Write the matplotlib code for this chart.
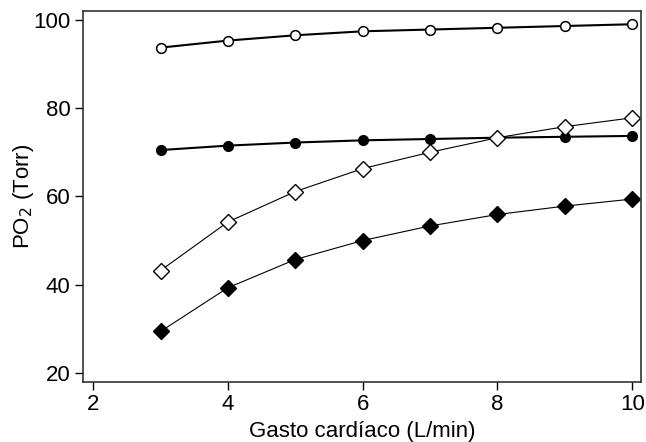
import matplotlib as mpl
mpl.use('Agg')
import matplotlib.pyplot as plt

plt.rcParams['font.family'] = ['Liberation Sans', 'DejaVu Sans']

gasto = [3, 4, 5, 6, 7, 8, 9, 10]
po2_open_circle = [93.7, 95.3, 96.5, 97.4, 97.8, 98.2, 98.6, 99.0]
po2_filled_circle = [70.5, 71.5, 72.2, 72.7, 73.0, 73.3, 73.5, 73.7]
po2_open_diamond = [43.2, 54.2, 61.1, 66.3, 70.0, 73.3, 75.8, 77.8]
po2_filled_diamond = [29.4, 39.3, 45.7, 50.0, 53.3, 55.9, 57.8, 59.4]

fig = plt.figure(figsize=(6.46, 4.42), dpi=100)
ax = fig.add_axes([83/646, 1 - 382/442, (641-83)/646, (382-11)/442])

# circles: thicker lines
ax.plot(gasto, po2_open_circle, '-o', color='black', lw=1.5, ms=7,
        mfc='white', mec='black', mew=1.1)
ax.plot(gasto, po2_filled_circle, '-o', color='black', lw=1.5, ms=7,
        mfc='black', mec='black')
# diamonds: thin lines
ax.plot(gasto, po2_open_diamond, '-D', color='black', lw=0.8, ms=8,
        mfc='white', mec='black', mew=1.0)
ax.plot(gasto, po2_filled_diamond, '-D', color='black', lw=0.8, ms=8.5,
        mfc='black', mec='black')

ax.set_xlim(1.85, 10.13)
ax.set_ylim(17.95, 102)
ax.set_xticks([2, 4, 6, 8, 10])
ax.set_yticks([20, 40, 60, 80, 100])
ax.tick_params(direction='out', length=6, width=1, labelsize=16, colors='black', pad=3)
for s in ax.spines.values():
    s.set_linewidth(1.2)
    s.set_color('#333333')

ax.set_xlabel('Gasto cardíaco (L/min)', fontsize=16, labelpad=4)
ax.set_ylabel('PO$_2$ (Torr)', fontsize=16, labelpad=-2)

fig.savefig('out.png', dpi=100)
plt.close()
